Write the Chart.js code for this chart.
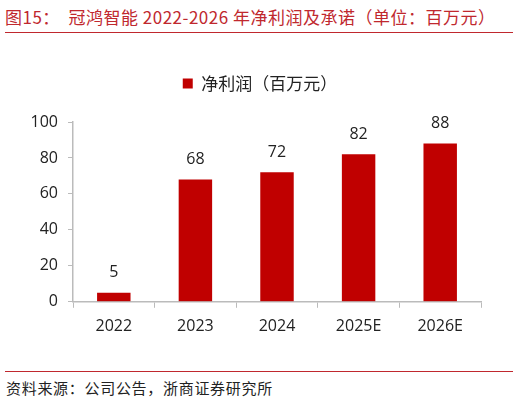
<!DOCTYPE html>
<html>
<head>
  <meta charset="utf-8">
  <title>冠鸿智能净利润</title>
  <script src="https://cdn.jsdelivr.net/npm/chart.js"></script>
  <style>
    body {
      margin: 0;
      width: 520px;
      height: 402px;
      background: #fff;
      position: relative;
      overflow: hidden;
      font-family: "Noto Sans CJK SC", "Noto Sans", sans-serif;
    }
    .title {
      position: absolute;
      left: 5px;
      top: 4px;
      font-size: 17px;
      letter-spacing: 0.5px;
      color: #C0282E;
      white-space: nowrap;
    }
    .rule {
      position: absolute;
      left: 5px;
      width: 508px;
      height: 1px;
      background: #C0282E;
    }
    .source {
      position: absolute;
      left: 6px;
      top: 377px;
      font-size: 15px;
      letter-spacing: 0.7px;
      color: #222;
      white-space: nowrap;
    }
    .chart-box {
      position: absolute;
      left: 0;
      top: 40px;
      width: 520px;
      height: 320px;
    }
  </style>
</head>
<body>
  <div class="title">图15：&nbsp;&nbsp;冠鸿智能 2022-2026 年净利润及承诺（单位：百万元）</div>
  <div class="rule" style="top:32px"></div>
  <div class="chart-box">
    <canvas id="profitChart"></canvas>
  </div>
  <div class="rule" style="top:371px"></div>
  <div class="source">资料来源：公司公告，浙商证券研究所</div>

  <script>
    const years = ['2022', '2023', '2024', '2025E', '2026E'];
    const netProfit = [5, 68, 72, 82, 88];
    const yTicks = [0, 20, 40, 60, 80, 100];
    const seriesName = '净利润（百万元）';

    // draw the value above each bar
    const barValues = {
      id: 'barValues',
      afterDatasetsDraw(chart) {
        const ctx = chart.ctx;
        const meta = chart.getDatasetMeta(0);
        ctx.save();
        ctx.font = '16px "Open Sans", "Noto Sans", sans-serif';
        ctx.fillStyle = '#222';
        ctx.textAlign = 'center';
        ctx.textBaseline = 'bottom';
        meta.data.forEach((bar, i) => {
          ctx.fillText(String(netProfit[i]), bar.x, bar.y - 12);
        });
        ctx.restore();
      }
    };

    // extra space under the legend, and centre it on the whole canvas
    const legendGap = {
      id: 'legendGap',
      beforeInit(chart) {
        const fit = chart.legend.fit;
        chart.legend.fit = function () {
          fit.bind(chart.legend)();
          this.height += 20;
        };
      },
      afterLayout(chart) {
        chart.legend.left = 0;
        chart.legend.right = chart.width;
        chart.legend.width = chart.width;
      }
    };

    const ctx = document.getElementById('profitChart').getContext('2d');
    new Chart(ctx, {
      type: 'bar',
      data: {
        labels: years,
        datasets: [{
          label: seriesName,
          data: netProfit,
          backgroundColor: '#C00000',
          barPercentage: 0.41,
          categoryPercentage: 1.0,
        }],
      },
      options: {
        responsive: true,
        maintainAspectRatio: false,
        animation: false,
        layout: {
          padding: { left: 0, right: 39, top: 25, bottom: 14 },
        },
        plugins: {
          legend: {
            position: 'top',
            labels: {
              boxWidth: 10,
              boxHeight: 10,
              padding: 10,
              color: '#222',
              font: { size: 17, family: '"Noto Sans CJK SC", sans-serif' },
            },
          },
          tooltip: { enabled: false },
        },
        scales: {
          x: {
            grid: {
              display: true,
              drawOnChartArea: false,
              offset: true,
              tickLength: 6,
              color: '#bbb',
            },
            border: { color: '#bbb', width: 1.5 },
            ticks: {
              color: '#222',
              padding: 9.5,
              font: { size: 16, family: '"Open Sans", "Noto Sans", sans-serif' },
            },
          },
          y: {
            min: 0,
            max: 100,
            afterBuildTicks(scale) {
              scale.ticks = yTicks.map(v => ({ value: v }));
            },
            afterFit(scale) {
              scale.width = 73;
            },
            grid: {
              display: true,
              drawOnChartArea: false,
              tickLength: 5,
              color: '#bbb',
            },
            border: { color: '#bbb', width: 1.5 },
            ticks: {
              color: '#222',
              padding: 10,
              font: { size: 16, family: '"Open Sans", "Noto Sans", sans-serif' },
            },
          },
        },
      },
      plugins: [barValues, legendGap],
    });
  </script>
</body>
</html>
